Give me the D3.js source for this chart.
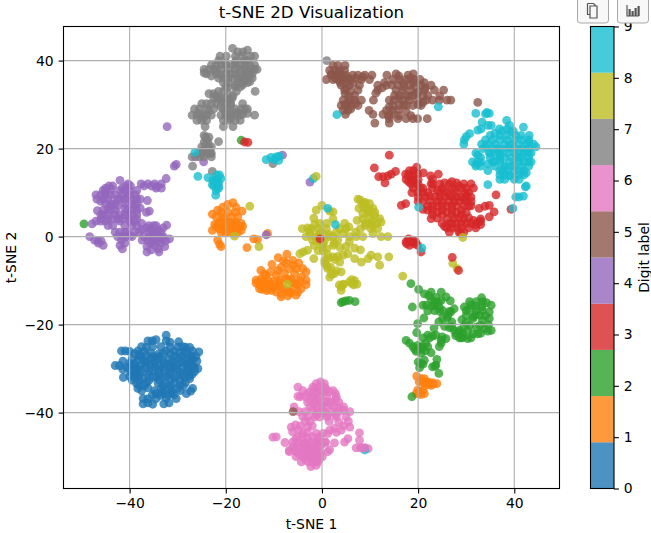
<!DOCTYPE html>
<html>
<head>
<meta charset="utf-8">
<script src="https://cdn.jsdelivr.net/npm/d3@7"></script>
<style>
  body { margin: 0; background: #fff; }
  svg { display: block; font-family: "DejaVu Sans", sans-serif; }
  .tick text { font-size: 13.9px; fill: #000; }
</style>
</head>
<body>
<svg id="chart" width="651" height="533"></svg>
<script>
// values, one list per digit
const digit0 = [[-32.4,-22.4],[-36.2,-23.7],[-35.3,-23.7],[-34.5,-23.4],[-32.4,-23.7],[-31.6,-24],[-29.8,-23.9],[-31.6,-25.1],[-35.2,-25],[-28.4,-25.1],
[-41.7,-26],[-40.9,-26],[-40,-26.1],[-38.3,-26],[-36.9,-26.1],[-32.4,-26],[-30.7,-26],[-28.6,-26.2],[-26.9,-26],[-25.6,-26.2],
[-37.9,-27.2],[-36.5,-27],[-35.2,-27.3],[-33.8,-27.2],[-30.7,-27.1],[-29.3,-27.3],[-27.2,-27.1],[-26.2,-27.3],
[-41.4,-28.3],[-38.3,-28.2],[-36.8,-28.4],[-34.8,-28.3],[-33.1,-28.2],[-31,-28.4],[-28.9,-28.3],[-27.2,-28.2],[-26,-28.3],
[-43,-29.3],[-42.1,-29.3],[-39.7,-29.3],[-37.9,-29.4],[-35.8,-29.2],[-33.8,-29.3],[-31.7,-29.4],[-30.3,-29.3],[-28.2,-29.2],[-26.9,-29.4],
[-41.4,-30.2],[-39,-30.1],[-37.6,-30.2],[-35.2,-30.3],[-32.7,-30.2],[-30.3,-30.1],[-27.9,-30.2],[-25.8,-30],
[-39.3,-31.3],[-37.9,-31.2],[-36.2,-31.3],[-33.8,-31.4],[-31.7,-31.3],[-28.9,-31.3],[-27,-31.3],
[-41.3,-32],[-39,-32],[-37.2,-32.1],[-35.2,-32],[-33.1,-32],[-30.7,-32.1],[-28.6,-32],
[-38.6,-33.3],[-36.5,-33.2],[-34.1,-33.3],[-32.4,-33.4],[-30.7,-33.3],[-28.4,-33.2],
[-38.3,-34.5],[-36.2,-34.4],[-33.4,-34.5],[-31.7,-34.6],[-30,-34.5],[-26.9,-34.5],[-27.3,-35.1],
[-34.5,-35.7],[-33.1,-35.6],[-31.3,-35.7],[-28.2,-35.7],
[-37.2,-36.8],[-36.2,-36.9],[-34.5,-36.8],[-32.4,-36.7],[-30.3,-36.8],
[-37.2,-38],[-36.2,-37.8],[-35.2,-38.1],[-32.9,-38],[-31.8,-37.8],
[-37.5,-25],[-36.5,-25.2],[-33.5,-25],[-30,-25.1],[-29,-25],[-27.5,-25.2],[-39,-26.6],[-38,-26.8],[-35.5,-26.5],[-34,-26.7],[-33,-26.5],[-31.5,-26.7],[-29.5,-26.5],[-28,-26.7],
[-39.5,-27.8],[-37.2,-27.9],[-35.5,-27.7],[-34,-27.8],[-32,-27.9],[-30,-27.8],[-28,-27.7],[-26.8,-27.8],[-40,-28.8],[-39,-28.9],[-36.5,-28.7],[-35,-28.8],[-32.8,-28.9],[-31.5,-28.8],[-29.5,-28.7],[-27.8,-28.8],
[-40.5,-29.8],[-38.7,-29.9],[-36.7,-29.8],[-34.5,-29.7],[-33,-29.8],[-31,-29.9],[-29,-29.8],[-27.5,-29.7],[-26.5,-29.8],[-39.8,-30.7],[-38.5,-30.8],[-36,-30.7],[-34,-30.6],[-31.5,-30.7],[-29.5,-30.8],[-28,-30.7],[-26.5,-30.7],
[-40,-31.7],[-38.3,-31.7],[-34.5,-31.8],[-32.3,-31.7],[-30,-31.6],[-27.6,-31.7],[-39.5,-32.6],[-38,-32.6],[-36,-32.7],[-33.8,-32.6],[-31.5,-32.5],[-29.5,-32.6],[-27.5,-32.3],
[-38,-33.8],[-37,-33.9],[-33,-33.8],[-31.5,-33.8],[-29.5,-33.7],[-28.8,-33.9],[-37.5,-35],[-34.8,-35],[-33,-35],[-31.2,-35.1],[-29.5,-35],[-35.3,-36],[-33.6,-36.1],[-32,-36],[-30.8,-36]];

const digit1 = [[-18.5,7.7],[-19.6,7.3],[-20.6,6.7],[-17.9,6.7],[-16.6,5.8],[-21.7,6],[-22.8,5.1],[-22,4.5],[-20.6,4.5],[-18.9,4.5],
[-21.3,3.3],[-19.2,3.3],[-17.9,3.3],[-16.8,3],[-22,2.2],[-19.9,2.2],[-18.5,1.8],[-16.8,1.4],[-22.8,1.4],[-21.3,1.8],[-19.2,1],[-17.5,1],
[-20.3,3.9],[-18.2,2.8],[-20.6,1.5],[-19.5,5.5],
[-21.7,-0.8],[-21.3,-1.7],[-21,-2.3],[-14.2,-0.5],[-13.4,-0.7],[-15.6,-2.5],[-11.3,0.7],
[-7.3,-4],[-9.1,-4.8],[-6.1,-5.4],[-4.8,-6],[-10.4,-6.3],[-12.7,-7.7],[-9.2,-7.7],[-6.8,-7.3],[-4,-7.3],[-3.3,-8],
[-11.6,-8.8],[-9.5,-8.8],[-7.8,-8.4],[-5.7,-8.4],[-4.3,-9.2],[-13.7,-9.9],[-12.7,-9.6],[-11.2,-9.9],[-8.8,-9.9],[-6.4,-9.6],[-3.3,-9.9],
[-13.7,-10.6],[-12.3,-11.1],[-10.6,-10.7],[-8.8,-11.1],[-5.4,-10.7],[-3.3,-10.9],[-13,-11.8],[-11.2,-11.8],[-9.5,-11.4],[-7.4,-12.2],[-6.1,-11.8],[-4.3,-11.8],
[-12,-10.3],[-10,-10.2],[-9.5,-12.6],[-8.5,-13],[-6.8,-12.6],[-5,-12.6],[-8.5,-13.7],[-7.1,-13.5],[-5.4,-13.3],
[19.7,-31.7],[20.6,-32.3],[21.3,-32.3],[22,-33],[22.7,-33.8],[23.9,-33.4],[21.3,-33.4],[22.9,-33.2],[19.9,-34.9],[21,-34.9],[21.3,-35.7],[19.6,-35.7],[20.6,-35.9],[20.2,-33],[23.2,-33.5],
[-21,5.5],[-18,5.5],[-17.5,4.5],[-21.5,3],[-19,2.5],[-20,3],[-18,2],[-17.3,2.2],[-16.5,2.3],[-22.3,2.8],[-21,1],[-20,1],[-18.3,0.8],
[-12,-8.5],[-10.7,-8],[-8.5,-7],[-7.5,-6],[-8,-5.5],[-6,-6.5],[-5.3,-7.3],[-12.8,-10.4],[-11.5,-10.8],[-13,-10.9],[-10.3,-11.5],[-9,-10.5],[-7.5,-9.6],[-7,-9.9],[-6,-10.5],[-8,-11.8],[-5,-11],[-4.7,-10],[-6.5,-12.8],[-11.5,-12.3],[-12.5,-12],[-10.5,-12.2],
[21.5,-33],[22.4,-33.4],[20.5,-35.2],[20,-35.6],[20.7,-32.9],[21.9,-33.7]];

const digit2 = [[18.5,-10.7],[20.1,-12],[21.3,-13],[22.7,-12.6],[24.8,-12.6],[25.8,-13.7],[22.7,-14.2],[23.7,-13.8],[24.8,-14.5],[26.7,-14.6],
[18.8,-16],[21,-15.6],[21.7,-15.6],[23.4,-15.6],[24.4,-16],[25.1,-16.8],[22,-16.9],[23.4,-16.8],[27.5,-16.4],[26.8,-17.1],[26.2,-17.9],
[21.2,-18.5],[25.1,-18.6],[24.3,-19.4],[27,-19.4],[19.9,-19.8],[25.5,-20.4],[26.5,-20.7],[27.5,-21.3],[28.6,-21.3],[29.3,-22.1],
[23.3,-20.8],[19.7,-21.8],[22,-22.4],[23,-22.6],[23.7,-22.4],[25.8,-23.2],[24.8,-23.6],[24.4,-25],
[17.5,-23.6],[18.2,-24.2],[18.9,-25],[19.9,-24.7],[21,-25],[22,-25],[19.6,-26.1],[20.6,-26.5],[22.7,-26.4],[20.8,-25.6],
[21.3,-28.1],[20.6,-28.9],[20.3,-29.8],[23.9,-27.9],[23.7,-29.2],[23,-29.6],[24.3,-31.1],[18.7,-36.4],
[33.2,-13.9],[30.7,-14.8],[32.1,-14.8],[33.4,-14.8],[35.2,-15.6],[29.6,-16],[30.7,-16.4],[32.1,-16.8],[33.4,-16.8],[34.8,-17.1],
[30,-17.9],[31.4,-18.2],[32.8,-17.9],[34.8,-18.6],[29.1,-18.9],[31.4,-18.6],[33.4,-19],[30.7,-20.2],[32.1,-20.6],[33.8,-21],[35.2,-21.3],
[28.6,-21.7],[30.3,-21.3],[31.4,-22.1],[32.4,-22.1],[30.3,-23.2],[31,-23],[28.6,-23],[27.8,-22.5],[34.6,-20],
[4.4,-14.8],[5.7,-14.5],[6.9,-14.8],[4,-15],[5,-14.6],[-49.5,2.9],[-16.8,21.9],
[22.2,-13.4],[23.4,-14.8],[24.2,-15],[22.8,-15.8],[24.5,-17],[26,-18.5],[26.5,-17],[21,-23],[22.4,-23],[19.3,-25.6],[20.4,-25.2],[21.5,-26],[21.6,-24.2],[27,-20.5],[28,-22],[29,-23],
[30,-16.8],[31,-15.5],[32,-15.8],[33.3,-15.9],[34.2,-15],[34,-18],[31.9,-17.8],[30,-19.5],[29.5,-20.5],[32.9,-20.2],[33,-22],[34.5,-21.5],[29.3,-22.9],[24.8,-24.2],[25,-22.8],[20,-28.5],[21,-29],[23.5,-29.4]];

const digit3 = [[14,18.5],[10.9,15.6],[11.8,13.6],[12.7,13.6],[13.7,13.8],[14.4,14.2],[15.3,14.8],[13.1,12.2],
[19.7,15.8],[18.2,15],[17.4,14.2],[18.9,13.9],[19.9,14.3],[21.1,14.5],[22.6,13.8],[24.2,14.2],
[17.5,13],[18.7,13],[20,13],[23,13],[18.5,12],[19.5,12],[22.7,12],[25.5,12.2],[26.5,12],[28,12.2],[29.5,12],[31,12],
[19,11],[21,11],[23,11],[25,11],[27,11],[29,11],[31.5,11],[18.7,10],[20,10],[21,10],[24.5,10],[26,10],[28,10],[30.5,10],
[20,9],[21.5,9],[23.5,9],[25.5,9],[27,9],[29,9],[31,9],[20,8],[21,8],[22.5,8],[25,8],[26.5,8],[28.5,8],[30,8],[31,8],
[22,7],[24,7],[26,7],[28,7],[29.5,7],[31,7],[16.5,7.1],[17.4,7.5],[21,6.2],[23,6],[25,6],[27,6],[29,6],
[23,5],[25,5],[27,5],[29,5],[32.7,6.4],[33.9,6.9],[34.8,7.1],[35.8,5.6],[34.8,4.5],[36.2,9.5],[39.3,6.2],
[22.7,4.1],[26,4],[27.5,4.2],[29.5,4],[31.5,3.7],[33,4],[25,3],[26.5,3],[28,3],[30,3],[32,2.7],[33,2.7],
[26,2],[28,2],[29,2],[30.5,2],[32,2],[26.5,1],[28.5,1],[29.5,1],[28.9,0.7],
[18.5,-1.2],[17.5,-1.2],[18.2,-2],[19.5,-1.2],[19.2,-1.6],[20.6,-3.5],[18,-0.5],[18.9,-0.8],[17.6,-1.6],[19.9,-2],
[-16.1,21.5],[-15.4,21.4],
[18,14],[19,15],[19,12.8],[18,12.5],[20,12],[20.5,11],[22,10],[22.5,9.2],[23,12],[24.5,12],[27,12.5],[24,10.5],[25.5,10.5],[27.5,10.8],[29.8,10],[28.5,11.5],[30,11],
[24.5,9],[26.5,9.3],[28,9],[30,9.2],[24,8],[27.5,8],[29.5,8.5],[23,7],[25,7],[27,7],[30.5,7],[22,6],[24,5.5],[26,5.5],[28,5.5],[30,5.5],[24,4.2],[28.5,4.2],[30.5,4.3],[27,3],[29,3],[31,3],[27,2],[25.5,2.3],[32.5,3.3],[33,3.5]];

const digit4 = [[-42,12.8],[-40.3,12],[-37.6,12],[-36.2,12],[-34.8,12],[-33.4,12],[-32.4,13.2],[-44.3,11.5],[-43.5,11.5],[-40.8,11.5],[-39.8,11.5],[-37,11.5],[-35.5,11.5],[-33.4,11],
[-45.5,10.5],[-42,10.5],[-41,10.5],[-40,10.5],[-46,9.5],[-47,9.5],[-45,9.5],[-43,9.5],[-41.5,9.5],[-40,9.5],[-38.8,9.5],
[-46.8,8.5],[-45.5,8.5],[-44.5,8.5],[-42.5,8.5],[-39.5,8.5],[-38.5,8.5],[-37.8,8.5],[-45,7.5],[-43.8,7.5],[-41,7.5],[-39.5,7.5],[-38.5,7.5],[-36.3,8.2],
[-46.7,5.9],[-45.5,6],[-44,6],[-43,6],[-40.5,6],[-39.5,6],[-38.5,6],[-45.5,5],[-44.5,5],[-43,5],[-42,5],[-39.5,5],[-38.5,5],[-35.9,5.8],[-36.5,5.5],
[-46,4],[-44.5,4],[-43.5,4],[-41.5,4],[-40,4],[-38.5,4],[-47,3.5],[-46,3.5],[-45,3.5],[-42,3.5],[-40,3.5],[-39,3.5],[-47.8,2.9],
[-41,2.5],[-39.5,2.5],[-38.5,2.5],[-36,2.5],[-35,2.5],[-34.5,2.5],[-32.3,2.6],[-35.5,1.5],[-34,1.5],
[-43,1],[-42,1],[-41,1],[-40.5,1],[-39,1],[-38,1],[-34.5,1],[-33.5,1],[-42.5,0],[-41.5,0],[-40.5,0],[-36,0],[-35,0],[-34,0],[-33,0],
[-48.3,0],[-47.3,-0.8],[-46.6,-1],[-45.9,-1],[-45.5,-2],[-41.7,-0.8],[-42,-2],[-37.4,-0.8],[-36.2,-0.8],[-35.2,-0.5],[-34.1,-1],[-33.1,-0.5],[-31.7,-0.5],
[-36.4,-3.5],[-33.9,-3.5],[-32.7,-2.3],[-34.8,-2],[-36.4,-2.3],[-35.7,-1.5],
[-32.2,25],[-30.7,16],[-30.3,16.4],[-26.3,18.1],[-24.6,17],[-8.2,18.5],[-2.5,12.4],[-11.6,0.4],
[-45,10],[-44,9.5],[-46,8],[-44,7],[-43,7.5],[-42,8.5],[-41,8.5],[-40.5,9],[-38.5,10.5],[-41.5,11],[-42.5,7],[-41,6.5],[-44.5,6.5],[-46,5],[-42.5,4],[-41,5],[-40.5,4.8],[-37.8,6.5],[-39,7],[-37.5,3],[-36.5,2],[-33,2],[-35,0.8],[-36,1.2],[-37,0],[-37.5,1.5],[-40,0.2],[-39.5,0],[-41,-1.5],[-35,-1.2],[-33.5,-1.5],[-32.5,-1],[-34,-2.8],[-35.5,-3],[-46.5,-1.5],[-41.5,-2.8],[-43.5,2.5],[-44.5,2.5],[-43.8,10.8],[-45,11],[-34.3,11.4],[-34.5,11]];

const digit5 = [[2.3,38.9],[3.3,38.9],[4.8,38.9],[1.6,37.8],[2.6,37.8],[3.7,37.8],[4.7,37.8],
[1.9,36.7],[3,36.7],[4,36.7],[5,36.7],[6.4,36.7],[7.5,36.7],[8.9,36.7],[10.4,36.7],[13.5,36.7],[15.4,37],[17.9,36.7],[19,37],
[0.9,35.7],[2.3,35.7],[3.3,35.7],[4.4,35.7],[6.1,35.7],[8.2,35.7],[9.9,35.7],[14.7,35.7],[16.1,35.7],[17.5,35.7],[19.2,35.7],[20.4,35.7],
[4,34.4],[5.7,34.4],[7.8,34.4],[11.6,34.4],[13.4,34.4],[18.2,34.4],[20.6,34.4],[22.7,34.4],
[4.7,33.3],[7.5,33.3],[11.6,33.3],[15.4,33.3],[16.8,33.3],[18.5,33.3],[21.3,33.3],[23.4,33.3],[25.3,33.3],
[6.8,32.1],[15.1,32.1],[16.1,32.1],[17.5,32.1],[18.9,32.1],[22,32.1],[11.2,32.6],[20,32.8],
[4.4,31],[5.7,31],[6.8,31],[8.2,31],[10.7,31],[14,31],[16.8,31],[18.2,31],[19.9,31],[21.7,31],[23,31],[24.4,31],[26,31],
[4,29.8],[5,29.8],[6.1,29.8],[7.5,29.8],[16.1,29.8],[17.5,29.8],[18.9,29.8],[20.6,29.8],
[4.4,28.7],[5.4,28.7],[9.8,28.7],[13.4,28.7],[14.7,28.7],[15.9,28.8],[4.9,27.8],[10.6,27.8],[12.7,27.8],[14.4,27.8],
[14,26.8],[15.8,26.8],[17.5,26.8],[18.9,26.8],[19.9,26.8],[21.9,26.8],[11,25.8],[14,25.8],[32.4,30.5],
[2,37],[3.5,37.3],[5.5,36],[4.5,36],[2.8,36],[3.8,35],[5,35],[6.5,34.8],[7,36],[8.5,36.3],[5,33.5],[6,33],[5.5,31.8],[4.8,32.5],[5.3,30.3],[4.8,30],[7,30.3],[6,29],
[13,35],[12.5,33.8],[14.5,34.5],[15.8,34.5],[17,34.8],[17,34],[19,35],[16,36.5],[18.5,36],[19.5,34],[19.5,32.5],[16,31.5],[15,31],[17,30],[18,31.8],[21,32],[17.5,28.5],[14,29.5],[14.8,29.8],[21,30.5],[20,30],[18.5,27.5],[16,27.5],[13.8,27.5],[21.3,35],[21.5,33.8],[24.5,32],[26.8,31]];

const digit6 = [[-0.3,-33],[-1.2,-33.4],[0.5,-33.4],[-5,-34.2],[-1.9,-34.2],[-0.8,-34.2],[0.5,-34.2],[-1.5,-34.5],[0.9,-34.6],[2.3,-35],
[-5,-36.3],[-2.5,-35.3],[-1,-35.3],[0.5,-35.3],[2.8,-35.7],[-4.5,-36.4],[-3.5,-36.4],[-2,-36.4],[-0.5,-36.4],[1,-36.4],[3,-36.4],
[-3,-37.6],[-1.5,-37.6],[0.3,-37.6],[2,-37.6],[3.5,-37.6],[-5.8,-38.7],[-2.5,-38.7],[-1,-38.7],[0.8,-38.7],[2.5,-38.7],[4.5,-38.7],
[-4.8,-39.8],[-3.5,-39.8],[-1,-39.8],[0.5,-39.8],[2,-39.8],[3.5,-39.8],[5.8,-39.8],[-4,-40.9],[-3,-41],[-1.5,-41],[-0.5,-41],[1,-41],[3,-41],[5,-41],
[-2.5,-42],[1.5,-42],[3.5,-42.2],[5.5,-42],
[-9.5,-45.5],[-10.2,-45.6],[-7.7,-46.8],[-6.8,-48.6],[-6.4,-43.3],[-6.1,-44.4],[-5,-45.5],[-4,-44.7],[-3,-43.3],[-1.2,-44.7],[0.2,-44.7],
[-6.1,-46.7],[-5,-46.7],[-3.6,-46.7],[-2.3,-46.7],[-0.9,-46.7],[0.8,-46.7],[-6.1,-47.8],[-4.7,-47.8],[-3.3,-47.8],[-1.9,-47.8],[-0.6,-47.8],
[-6.8,-48.9],[-5.4,-48.9],[-4,-48.9],[-2.6,-48.9],[-1.2,-48.9],[1.2,-48.9],[-5.4,-50],[-4,-50],[-2.6,-50],[-1.2,-50],[0.1,-50],[-4.3,-51.2],[-2.9,-51.2],[-1.2,-51.2],[-2.3,-52.3],[-1.2,-52],
[1.6,-44],[2.6,-43.6],[4,-44],[5.8,-43.3],[1.2,-44.8],[7.8,-44.6],[7.8,-46.3],[5.4,-45.9],[4.7,-46.7],[2.6,-46.9],[0.6,-46.7],[1.6,-48.4],[8,-48],[8.9,-48],[9.6,-48.2],[7.1,-48],[-0.8,-51.2],
[-1.5,-35.8],[0,-35],[1.5,-35.3],[-3,-35.7],[-4,-35],[-2.5,-37],[-0.8,-37],[1,-37.5],[2.8,-37],[-1.7,-38],[0,-38.5],[1.8,-38],[3.5,-38.8],[-2,-39.5],[-1.2,-40.5],[0,-40],[1.2,-40.5],[2.8,-40.5],[4.5,-39.5],
[-3.5,-42],[-2,-43],[-4.5,-43],[-5.5,-42.8],[-4.8,-44],[-3,-44.5],[-2,-45.5],[-0.5,-45.5],[-4,-45.5],[-3,-45.8],[-1,-46],[-5.5,-46],[-4,-47.2],[-2.8,-47.2],[-1.2,-47.3],[0,-47.3],[-5.5,-48.2],[-3.5,-48.3],[-2,-48.5],[-0.3,-48.9],
[-4.7,-49.5],[-3.3,-49.5],[-2,-49.5],[-0.5,-49.5],[-3.5,-50.6],[-2,-50.5],[-0.5,-50.5],[-2,-51.3],[4.5,-43],[3,-44.5]];

const digit7 = [[-18.6,42.8],[-17.5,42],[-16.4,42],[-15.5,42.4],[-21.2,41],[-19.9,41],[-14.8,41],[-14,41],[-21.5,40],[-17.9,40],[-16.2,40],
[-23,39],[-22,39],[-21,39],[-20,39],[-18.5,39],[-17,39],[-16,39],[-15,39],[-14,39],
[-24.5,38],[-23.5,38],[-22.5,38],[-21,38],[-19.5,38],[-18,38],[-17,38],[-16,38],[-15,38],[-14,38],[-13.5,38],
[-24,37],[-22,37],[-20,37],[-19,37],[-18,37],[-17,37],[-16,37],[-15,37],[-14.5,37],
[-21.5,36],[-20.5,36],[-19.5,36],[-18.5,36],[-17.5,36],[-16.5,36],[-15.5,36],[-14.5,36],[-20.5,35],[-19.5,35],[-17.5,35],[-16.5,35],[-15.5,35],[-20,34],[-18,34],[-17,34],
[-23.5,32.5],[-22.5,32.5],[-21.5,33],[-20.5,33],[-19.5,32.5],[-18.5,32],[-17.8,33],[-13.9,33],
[-22.5,31.4],[-21.5,31.4],[-20,31.4],[-18.7,31.4],[-25,30.2],[-23,30.2],[-22,30.2],[-20,30.2],[-19,30.2],[-16.5,30.2],
[-26.5,29],[-25.5,29],[-24,29],[-22.5,29],[-20.5,29],[-19.5,29],[-18,29],[-16.8,29],[-16,29],[-15.5,29],
[-27,27.6],[-26,27.6],[-25,27.6],[-24,27.6],[-23,27.6],[-21,27.6],[-20,27.6],[-19,27.6],[-18,27.6],[-17,27.6],[-14,27.6],
[-26,26.4],[-25,26.4],[-24,26.4],[-20.5,26.4],[-19.5,26.4],[-18,26.4],[-17,26.4],[-24.3,25],[-20.5,25],[-18.5,25],
[-24.2,22.6],[-23.5,22.6],[-24.5,21.5],[-23.7,21.5],[-21.5,21.6],[-25,20.4],[-24,20.4],[-23.5,20.4],[-23,20.4],
[-25.7,18.9],[-25,18.9],[-24,18.9],[-23.2,18.9],[-23,18.9],[-27,18.1],[-25.5,18.1],[-24.5,18.1],[-23,18.1],[-26.9,16],[-22.8,14.8],[-10.2,16.6],
[-18,41],[-16.5,41],[-15.5,40],[-20,39.5],[-18,39.3],[-24.5,37.2],[-23,36.5],[-22,37.8],[-21,36.8],[-15.5,37.5],[-16,35.5],[-18,34.5],[-16.5,34.5],[-19.5,34],[-15,35.2],[-22,32],[-21,31.5],[-19.5,31],[-21,30.8],[-24,30.2],
[-25.5,28],[-23.5,28.5],[-20,28],[-18.8,28.5],[-17.5,28.2],[-16.5,27.8],[-24.7,27],[-19,26.8],[-24.2,20.5],[-24.8,19.5],[-24,22],[-24.5,23],[-23.5,19.7],[-21,29.5],[-19,30],[-15.5,28]];

const digit8 = [[7.5,8.5],[8,8.3],[8.9,7.5],[9.9,7.5],[7.7,6.4],[9.2,6.4],[10.6,6.4],[8.5,5.2],[10.9,4.8],[12,4.1],[9.9,4.5],[7.3,3.7],[9,3],[11.4,3],[12.3,3.3],
[8,1.8],[10.2,1.8],[11.6,1.8],[5,1.8],[3.7,1.8],[4.7,3],[5.6,2.2],[13.7,0],[12.3,0],[10.6,0.7],[8.5,0],[7.1,0],[5.7,0],[4.4,0.7],
[0,7.1],[-1.2,6],[1.6,5.8],[2.3,5.6],[-1.7,4.2],[2.3,4],[-0.8,1.8],[-2.2,1.8],[-4.1,1.8],[0.9,1.8],[-0.5,0.7],[-2.5,0.7],[-1.5,0],[-3.3,0],[0.2,-1.6],[2.3,0],[3.3,-0.8],[5.7,-1.2],[5,-2.3],
[-2.6,1.4],[-1.6,-2],[0.1,-2.3],[1.4,0],[-0.8,-0.1],[-3,-3.1],[-3.9,-3.5],[-4.6,-3.9],[-0.8,-3.2],[1,-2.8],[2.4,-2],[3.8,-2.5],[6.8,-2.6],[8,-3],[-13.1,-2.3],[-15,6.9],[-18.2,0.1],
[-1.7,-5],[0.6,-5.4],[0.6,-6.1],[1.2,-4.2],[2.3,-4.6],[3.7,-5.8],[4.4,-4.2],[5.4,-3.9],[6.8,-5],[8.2,-5.8],[9.6,-5],[10.2,-4.2],[11.6,-4.6],[12,-6.5],[13.9,-4.6],
[1.6,-9.2],[2.6,-8.4],[4,-8],[1.2,-7.3],[4,-11.4],[4,-12.2],[5.7,-10.3],[6.8,-10],[7.3,-10.8],[6.6,-11],[3.6,-11],[16.8,-9],[27.2,-6.1],[28.1,-7.3],[29.3,-0.2],
[-1.5,2.8],[-0.5,3],[1,3],[0,1],[1.5,0.5],[-3,2],[0.5,-1],[-1,-1],[-2,-0.8],[3,1],[9,2.5],[10,3],[10.5,3.5],[8.5,7],[9,7.8],[10,6],[11,5.5],[9.5,5.5],[8.5,4],[10.5,2.5],[2.5,-1.5],[7,1],
[1.8,-7],[1,-6.6],[3,-7.8],[2,-8.6],[3.3,-4.5],[2.7,-5.2],[1.2,-5],[0.3,-3.3],[4.3,-11],[4.5,-10.8],[6.2,-9.8],[6.2,-10.6]];

const digit9 = [[32,28],[34.3,28.2],[34,27.9],[34.8,28],[33.3,26],[34.5,25.3],[35.2,25.3],[32.4,24.2],[33.1,24.5],[30.7,23.4],[30,22.7],[29.6,22],[29.5,21],
[38.4,26.4],[39,25.3],[41.9,24.9],[36.9,24.5],[39.3,23.8],[40.3,23],[41.4,23],[43.1,23],
[35,23],[37,23],[38.5,23],[34,22],[35.5,22],[37,22],[38.5,22],[40,22],[41.5,22],[43,22],
[34.5,21],[36,21],[38,21],[39.5,21],[41,21],[42.5,21],[44,21],[33.5,20],[35.5,20],[37,20],[38.5,20],[40,20],[41.5,20],[43,20],[44.5,20.4],
[32,19],[35,19],[37,19],[38.5,19],[40,19],[42,19],[43.5,19],[32.4,18.5],[33,18],[35,18],[37,18],[38,18],[39.5,18],[41,18],[43,18],
[31.3,17],[32.5,17],[35.5,17],[37,17],[39,17],[41,17],[43,17],[43.5,17],[32,16],[33,16],[36,16],[38,16],[39.5,16],[41.5,16],[43,16],
[34.5,15],[37,15],[40,15],[42,15],[37,14],[38,14],[39,14],[41,14],[42,14],[37,13],[38,13],[40,13],[41,13],
[34.5,11.8],[42.3,11.3],[42.5,11.5],[40.3,9],[41,9],[41.9,9.2],[39.7,6.4],[24.2,29.5],[3.1,27.7],[20.1,6.7],[20.8,-2.6],[2.8,2.7],[1.2,6.4],
[-26.4,19.2],[-25.8,13.7],[-23.7,13.4],[-22.7,12.8],[-22,12],[-21.3,14],[-21,13.2],[-21.5,11.3],[-22,10.5],[-22.1,9.4],[-21.9,14],[-22.5,11.5],[-21.5,11],[-22.8,11.8],[-21.8,12.8],[-22,13],[-21.5,12],[-22.5,12.5],
[-11.6,17.5],[-10.6,18],[-9.5,18.1],[-8.9,18.3],[-9,17.3],[-9.9,17.5],[-1.8,13.2],[8.9,-48.5],
[36,23.5],[37.5,24],[38.5,24.5],[39.8,24],[33.2,21],[34,20.5],[34.8,19],[36.2,18.5],[36.8,19],[41,19.5],[42.5,19.5],[41.5,18],[40.5,18],[42,17],[40,16.2],[37.5,15],[38.5,15],[41,15],[39,13.8],[38,15.8],[43,19],[42.5,14.5],[35.7,17],[34.5,16.5],[36.5,20],[39,20.5],[43,21.3],[37,17.5],[33,17],[32,16.5]];

// a few points that sit on top of the later digits
const strayX = [1, -6, -0.4, 27.1, 28.4, -1.2, 8.9, 8.3, -7.2];
const strayY = [40, -39.8, -0.5, -4.7, -7.7, 13.7, -48, -48, -10.8];
const strayDigit = [7, 5, 3, 3, 3, 8, 6, 6, 8];

const digitLists = [digit0, digit1, digit2, digit3, digit4, digit5, digit6, digit7, digit8, digit9];
const digits = d3.range(10);
const tab10 = d3.schemeCategory10.slice();
const xTicks = [-40, -20, 0, 20, 40];
const yTicks = [-40, -20, 0, 20, 40];
const barTicks = digits;

const plotLeft = 63.5, plotRight = 559.5, plotTop = 26.5, plotBottom = 488.5;

const x = d3.scaleLinear().domain([-53.75, 49.4]).range([plotLeft, plotRight]);
const y = d3.scaleLinear().domain([-57.25, 47.75]).range([plotBottom, plotTop]);

const svg = d3.select('#chart');

//points
const dots = svg.append('g');
digits.forEach((d) => {
  dots.selectAll(null)
    .data(digitLists[d])
    .enter()
    .append('circle')
    .attr('cx', (p) => x(p[0]))
    .attr('cy', (p) => y(p[1]))
    .attr('r', 4.4)
    .attr('fill', tab10[d])
    .attr('fill-opacity', 0.8);
});
strayX.forEach((v, i) => {
  dots.append('circle')
    .attr('cx', x(v))
    .attr('cy', y(strayY[i]))
    .attr('r', 4.4)
    .attr('fill', tab10[strayDigit[i]])
    .attr('fill-opacity', 0.8);
});

//grid goes over the points here
const grid = svg.append('g').attr('stroke', '#b0b0b0').attr('stroke-width', 1.1);
xTicks.forEach((t) => {
  grid.append('line').attr('x1', x(t)).attr('x2', x(t)).attr('y1', plotTop).attr('y2', plotBottom);
});
yTicks.forEach((t) => {
  grid.append('line').attr('x1', plotLeft).attr('x2', plotRight).attr('y1', y(t)).attr('y2', y(t));
});

//axes
const xAxis = svg.append('g')
  .attr('transform', `translate(0,${plotBottom})`)
  .call(d3.axisBottom(x).tickValues(xTicks).tickSize(4.9).tickPadding(4.9));
const yAxis = svg.append('g')
  .attr('transform', `translate(${plotLeft},0)`)
  .call(d3.axisLeft(y).tickValues(yTicks).tickSize(4.9).tickPadding(4.9));
[xAxis, yAxis].forEach((a) => {
  a.select('.domain').remove();
  a.selectAll('.tick line').attr('stroke', '#000').attr('stroke-width', 1.1);
  a.selectAll('text').style('font-family', '"DejaVu Sans"');
});

svg.append('rect')
  .attr('x', plotLeft).attr('y', plotTop)
  .attr('width', plotRight - plotLeft).attr('height', plotBottom - plotTop)
  .attr('fill', 'none').attr('stroke', '#000').attr('stroke-width', 1.1);

//labels
svg.append('text').attr('x', 311.5).attr('y', 18)
  .attr('text-anchor', 'middle').attr('font-size', 16.67).text('t-SNE 2D Visualization');
svg.append('text').attr('x', 311.5).attr('y', 529)
  .attr('text-anchor', 'middle').attr('font-size', 13.9).text('t-SNE 1');
svg.append('text').attr('transform', `translate(16,257.5) rotate(-90)`)
  .attr('text-anchor', 'middle').attr('font-size', 13.9).text('t-SNE 2');

//colorbar
const barLeft = 590.5, barRight = 614;
const barScale = d3.scaleLinear().domain([0, 9]).range([plotBottom, plotTop]);
const bandScale = d3.scaleBand().domain(digits).range([plotBottom, plotTop]);

svg.append('g').selectAll('rect')
  .data(digits)
  .enter()
  .append('rect')
  .attr('x', barLeft)
  .attr('y', (d) => bandScale(d))
  .attr('width', barRight - barLeft)
  .attr('height', bandScale.bandwidth())
  .attr('fill', (d) => tab10[d])
  .attr('fill-opacity', 0.8);

svg.append('rect')
  .attr('x', barLeft).attr('y', plotTop)
  .attr('width', barRight - barLeft).attr('height', plotBottom - plotTop)
  .attr('fill', 'none').attr('stroke', '#000').attr('stroke-width', 1.1);

const barAxis = svg.append('g')
  .attr('transform', `translate(${barRight},0)`)
  .call(d3.axisRight(barScale).tickValues(barTicks).tickFormat(d3.format('d')).tickSize(4.9).tickPadding(4.9));
barAxis.select('.domain').remove();
barAxis.selectAll('.tick line').attr('stroke', '#000').attr('stroke-width', 1.1);
barAxis.selectAll('text').style('font-family', '"DejaVu Sans"');

svg.append('text').attr('transform', `translate(649,257.5) rotate(-90)`)
  .attr('text-anchor', 'middle').attr('font-size', 13.9).text('Digit label');

//the two little toolbar buttons top right
const buttons = svg.append('g');
[577.5, 617.5].forEach((bx) => {
  buttons.append('rect')
    .attr('x', bx).attr('y', -3)
    .attr('width', 31).attr('height', 26).attr('rx', 3)
    .attr('fill', '#f8f8f8').attr('stroke', '#a9a9a9');
});
buttons.append('path')
  .attr('d', 'M590 6h7v12h-7z M587.5 3.5h6l2 2 M587.5 3.5v11l2.5 0')
  .attr('fill', 'none').attr('stroke', '#555').attr('stroke-width', 1.2);
buttons.append('path')
  .attr('d', 'M627 5v11h12')
  .attr('fill', 'none').attr('stroke', '#555').attr('stroke-width', 1.2);
[[628.5, 9], [631.5, 11], [634.5, 8], [637.5, 6]].forEach(([bx, by]) => {
  buttons.append('rect')
    .attr('x', bx).attr('y', by).attr('width', 2.2).attr('height', 16 - by).attr('fill', '#555');
});
</script>
</body>
</html>
